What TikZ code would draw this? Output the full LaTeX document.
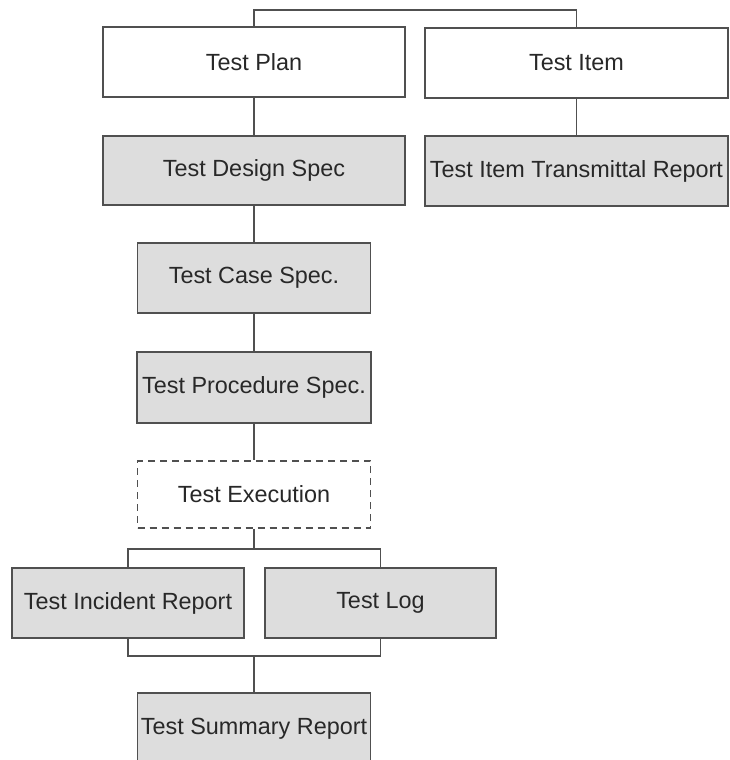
\documentclass[tikz,border=0pt]{standalone}
\usepackage{fontspec}
\setmainfont{Liberation Sans}
\definecolor{boxfill}{RGB}{221,221,221}
\definecolor{edge}{RGB}{80,80,80}
\definecolor{ink}{RGB}{40,40,40}
\tikzset{
  docbox/.style={draw=edge, line width=1.6pt, fill=boxfill, inner sep=0pt,
    text=ink, font=\fontsize{23.4}{26}\selectfont, anchor=center},
  plainbox/.style={docbox, fill=white},
  runbox/.style={docbox, fill=white, dash pattern=on 7pt off 5pt},
  link/.style={draw=edge, line width=1.3pt},
}
\begin{document}
\begin{tikzpicture}[x=1pt, y=-1pt]
\useasboundingbox (0,0) rectangle (729,760);

% top row
\node[plainbox, minimum width=302pt, minimum height=70pt] (plan) at (254,62) {Test Plan};
\node[plainbox, minimum width=303pt, minimum height=70pt] (item) at (576.5,63) {Test Item};
% second row
\node[docbox, minimum width=302pt, minimum height=69pt] (design) at (254,170.5) {Test Design Spec};
\node[docbox, minimum width=303pt, minimum height=70pt] (transmit) at (576.5,171) {Test Item Transmittal Report};
% main column
\node[docbox, minimum width=233pt, minimum height=70pt] (case) at (254,278) {Test Case Spec.};
\node[docbox, minimum width=234pt, minimum height=71pt] (proc) at (254,387.5) {Test Procedure Spec.};
\node[runbox, minimum width=233pt, minimum height=67pt] (exec) at (254,494.5) {Test Execution};
% results
\node[docbox, minimum width=232pt, minimum height=70pt] (incident) at (128,603) {Test Incident Report};
\node[docbox, minimum width=231pt, minimum height=70pt] (log) at (380.5,603) {Test Log};
\node[docbox, minimum width=233pt, minimum height=72pt] (summary) at (254,729) {Test Summary Report};

\coordinate (topbar) at (0,10);
\coordinate (split) at (254,549);
\coordinate (merge) at (254,656);

% connectors
\draw[link] (plan.north) -- (plan.north |- topbar) -| (item.north);
\draw[link] (plan.south) -- (design.north);
\draw[link] (item.south) -- (transmit.north);
\draw[link] (design.south) -- (case.north);
\draw[link] (case.south) -- (proc.north);
\draw[link] (proc.south) -- (exec.north);
\draw[link] (exec.south) -- (split);
\draw[link] (incident.north) |- (log.north |- split) -- (log.north);
\draw[link] (incident.south) |- (log.south |- merge) -- (log.south);
\draw[link] (merge) -- (summary.north);
\end{tikzpicture}
\end{document}
